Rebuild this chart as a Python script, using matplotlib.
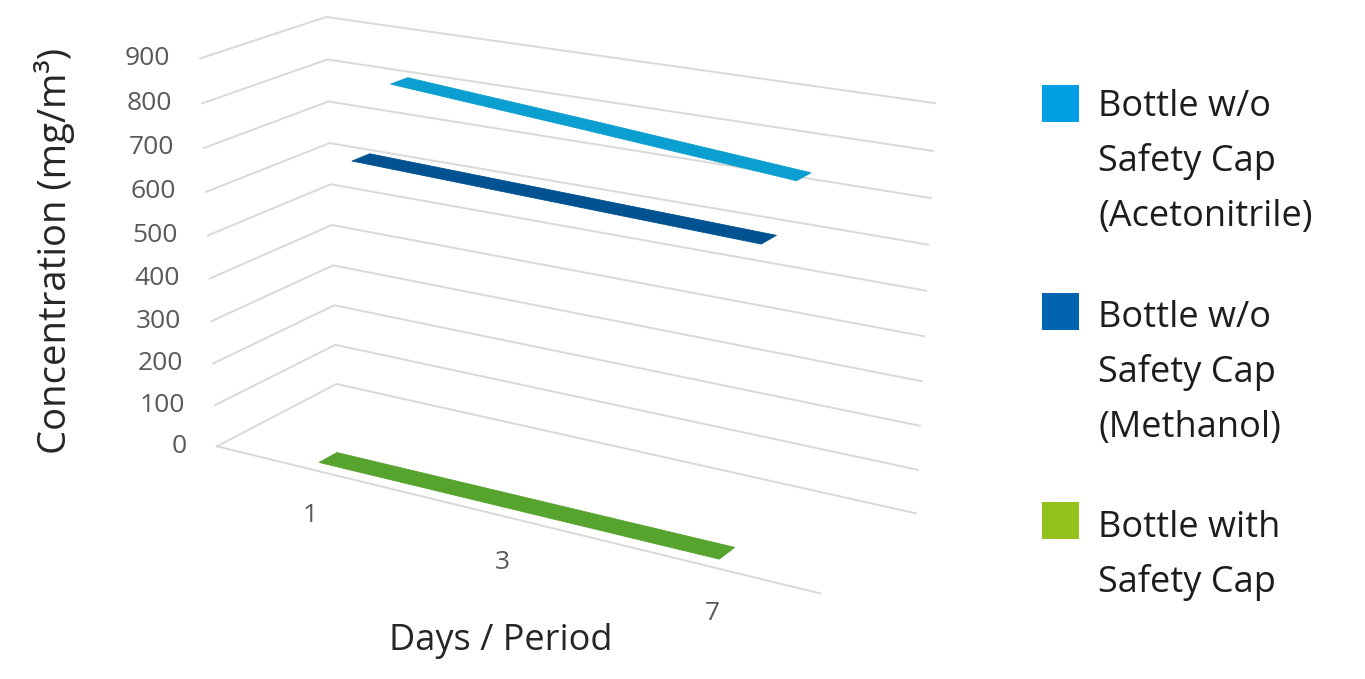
import numpy as np
import matplotlib
matplotlib.use('Agg')
import matplotlib.pyplot as plt
from matplotlib.patches import Rectangle
from mpl_toolkits.mplot3d import proj3d
from mpl_toolkits.mplot3d.art3d import Poly3DCollection

plt.rcParams['font.family'] = ['Open Sans', 'DejaVu Sans']

# data
days = ['1', '3', '7']
acetonitrile = [800, 765, 728]
methanol = [660, 647, 634]
safety_cap = [0, 0, 0]
z_ticks = [0, 100, 200, 300, 400, 500, 600, 700, 800, 900]

labels = ['Bottle w/o\nSafety Cap\n(Acetonitrile)',
          'Bottle w/o\nSafety Cap\n(Methanol)',
          'Bottle with\nSafety Cap']
legend_colors = ['#009fe3', '#0064b0', '#95c11f']
ribbon_colors = ['#0a9fd0', '#005291', '#56a32d']

W = len(days)
D = 3
ZMAX = 900
FW, FH = 1365, 679

fig = plt.figure(figsize=(FW / 100, FH / 100), dpi=100)
ax = fig.add_axes([0.1, 0.0, 0.6, 1.0], projection='3d',
                  proj_type='persp', focal_length=0.6, computed_zorder=False)
ax.view_init(elev=18.6, azim=-59.0)
ax.set_box_aspect((3.57, 1.1, 2.13))
ax.set_xlim(0, W)
ax.set_ylim(0, D)
ax.set_zlim(0, ZMAX)
ax.set_axis_off()

# walls: horizontal gridlines on side + back wall, floor front edge
grid_kw = dict(color='#d9d9d9', lw=1.4, zorder=1)
for z in z_ticks:
    ax.plot([0, 0, W], [0, D, D], [z, z, z], **grid_kw)
ax.plot([0, W], [0, 0], [0, 0], **grid_kw)

# flat 3D ribbons, back to front
xs = np.arange(W) + 0.5
half = 0.22
series = [(acetonitrile, 2.5, ribbon_colors[0]),
          (methanol, 1.5, ribbon_colors[1]),
          (safety_cap, 0.5, ribbon_colors[2])]
for k, (vals, yc, col) in enumerate(series):
    front = [(x, yc - half, v) for x, v in zip(xs, vals)]
    back = [(x, yc + half, v) for x, v in zip(xs[::-1], vals[::-1])]
    poly = Poly3DCollection([front + back], facecolor=col, edgecolor=col,
                            lw=0.6, zorder=3 + k)
    ax.add_collection3d(poly)

# place the projected box where the original chart sits
fig.canvas.draw()
M = ax.get_proj()
cx = np.array([0, 0, 0, W, W, W])
cy = np.array([0, 0, D, D, D, 0])
cz = np.array([0, ZMAX, ZMAX, ZMAX, 0, 0])
px, py, _ = proj3d.proj_transform(cx, cy, cz, M)
pix = ax.transData.transform(np.column_stack([px, py]))
bb = ax.get_position().transformed(fig.transFigure)
u = (pix[:, 0] - bb.x0) / bb.width
v = (pix[:, 1] - bb.y0) / bb.height
S = (935 - 200) / (u.max() - u.min())
X0 = 200 - S * u.min()
Y0 = (FH - 17) - S * v.max()
ax.set_position([X0 / FW, Y0 / FH, S / FW, S / FH])

# tick labels
for z in z_ticks:
    tx, ty, _ = proj3d.proj_transform(0, 0, z, M)
    ax.annotate(str(z), (tx, ty), xytext=(-30, 0), textcoords='offset pixels',
                ha='right', va='center', fontsize=19, color='#595959')
for i, d in enumerate(days):
    tx, ty, _ = proj3d.proj_transform(xs[i], 0, 0, M)
    ax.annotate(d, (tx, ty), xytext=(3, -47), textcoords='offset pixels',
                ha='center', va='center', fontsize=19, color='#595959')

fig.text(55 / FW, 1 - 251 / FH, 'Concentration (mg/m³)', rotation=90,
         ha='center', va='center', fontsize=27.5, color='#262626')
fig.text(501 / FW, 1 - 641 / FH, 'Days / Period', ha='center', va='center',
         fontsize=26, color='#262626')

# legend
box_tops = [85, 293, 502]
first_baselines = [116, 327, 537]
line_pitch = 55
for lab, col, top, base in zip(labels, legend_colors, box_tops, first_baselines):
    fig.patches.append(Rectangle((1042 / FW, 1 - (top + 37) / FH), 37 / FW, 37 / FH,
                                 transform=fig.transFigure, facecolor=col,
                                 edgecolor='none'))
    for j, line in enumerate(lab.split('\n')):
        fig.text(1098 / FW, 1 - (base + j * line_pitch) / FH, line,
                 ha='left', va='baseline', fontsize=26, color='#1d1d1b')

fig.savefig('out.png', dpi=100, facecolor='white')
